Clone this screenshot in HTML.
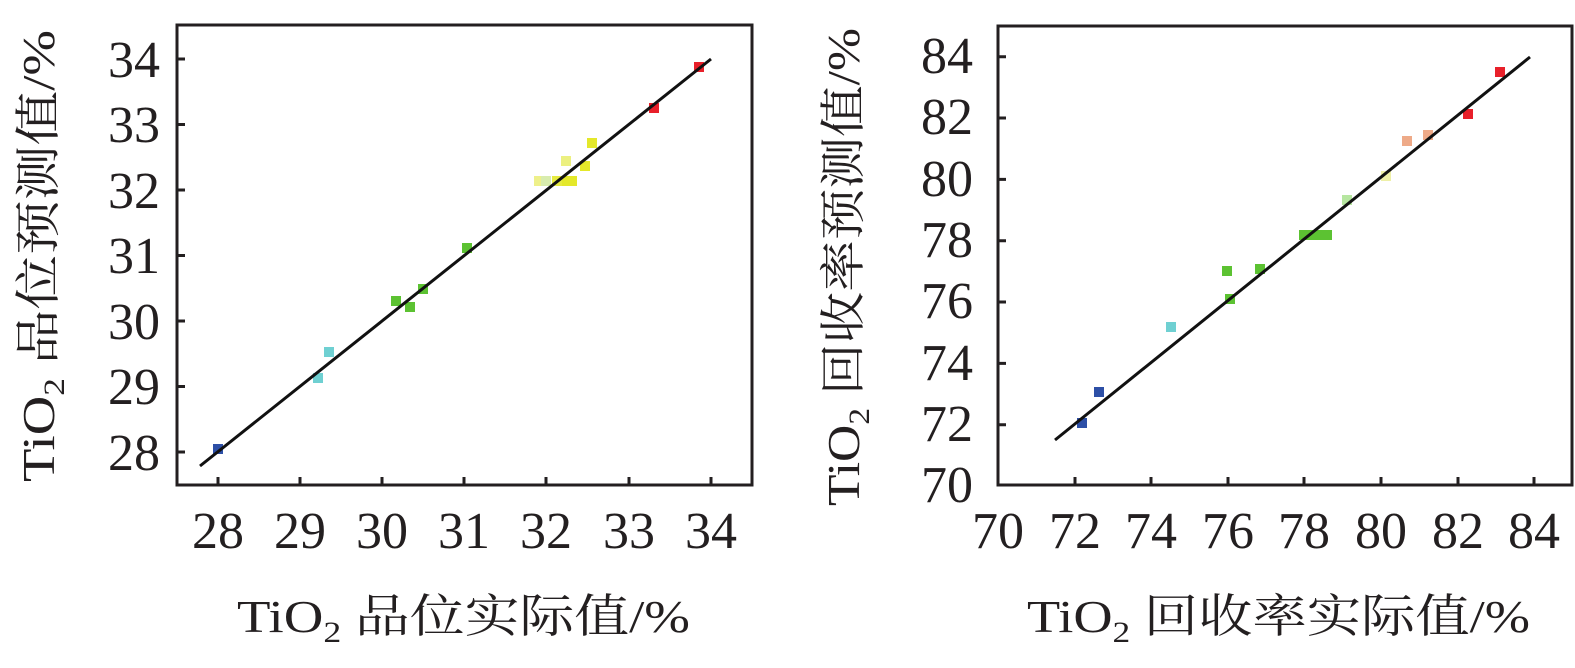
<!DOCTYPE html>
<html><head><meta charset="utf-8"><style>html,body{margin:0;padding:0;background:#fff}svg{display:block}text{font-family:"Liberation Serif","Noto Serif CJK SC",serif}</style></head>
<body>
<svg width="1575" height="668" viewBox="0 0 1575 668" xmlns="http://www.w3.org/2000/svg" fill="#231f20">
<g stroke="#231f20" stroke-width="3" fill="none">
<path d="M177,25 H752 V485 H177 Z"/>
<path d="M218,485v-8M300,485v-8M382,485v-8M464,485v-8M546,485v-8M629,485v-8M711,485v-8"/>
<path d="M177,452h8M177,386.5h8M177,321h8M177,255.5h8M177,190h8M177,124.5h8M177,59h8"/>
</g>
<g font-size="52" text-anchor="middle">
<text x="218" y="548">28</text><text x="300" y="548">29</text><text x="382" y="548">30</text><text x="464" y="548">31</text><text x="546" y="548">32</text><text x="629" y="548">33</text><text x="711" y="548">34</text>
</g>
<g font-size="52" text-anchor="end">
<text x="160" y="470">28</text><text x="160" y="404">29</text><text x="160" y="339">30</text><text x="160" y="273">31</text><text x="160" y="208">32</text><text x="160" y="142">33</text><text x="160" y="77">34</text>
</g>
<g>
<rect x="213" y="444" width="10" height="10" fill="#2d4fa6"/>
<rect x="313" y="373" width="10" height="10" fill="#6fd0d2"/>
<rect x="324" y="347" width="10" height="10" fill="#6fd0d2"/>
<rect x="391" y="296" width="10" height="10" fill="#5cc232"/>
<rect x="405" y="302" width="10" height="10" fill="#5cc232"/>
<rect x="418" y="284" width="10" height="10" fill="#5cc232"/>
<rect x="462" y="243" width="10" height="10" fill="#5cc232"/>
<rect x="534" y="176" width="10" height="10" fill="#eef08a"/>
<rect x="541" y="176" width="10" height="10" fill="#d8ecae"/>
<rect x="552" y="176" width="10" height="10" fill="#e6ea40"/>
<rect x="562" y="176" width="10" height="10" fill="#e4e82a"/>
<rect x="567" y="176" width="10" height="10" fill="#e4e82a"/>
<rect x="561" y="156" width="10" height="10" fill="#ecf080"/>
<rect x="580" y="161" width="10" height="10" fill="#e4e82a"/>
<rect x="587" y="138" width="10" height="10" fill="#e4e82a"/>
<rect x="649" y="103" width="10" height="10" fill="#e8202a"/>
<rect x="694" y="62" width="10" height="10" fill="#e8202a"/>
</g>
<line x1="200" y1="466" x2="711" y2="59" stroke="#111" stroke-width="3"/>
<text x="237" y="632" font-size="46" textLength="453" lengthAdjust="spacingAndGlyphs">TiO<tspan font-size="30" dy="10">2</tspan><tspan dy="-10"> 品位实际值/%</tspan></text>
<text transform="translate(54,482) rotate(-90)" font-size="46" textLength="452" lengthAdjust="spacingAndGlyphs">TiO<tspan font-size="30" dy="10">2</tspan><tspan dy="-10"> 品位预测值/%</tspan></text>

<g stroke="#231f20" stroke-width="3" fill="none">
<path d="M998,26 H1572 V485 H998 Z"/>
<path d="M1075,485v-8M1151,485v-8M1228,485v-8M1304,485v-8M1381,485v-8M1458,485v-8M1534,485v-8"/>
<path d="M998,424.7h8M998,363.4h8M998,302h8M998,240.7h8M998,179.4h8M998,118h8M998,56.7h8"/>
</g>
<g font-size="52" text-anchor="middle">
<text x="998" y="548">70</text><text x="1075" y="548">72</text><text x="1151" y="548">74</text><text x="1228" y="548">76</text><text x="1304" y="548">78</text><text x="1381" y="548">80</text><text x="1458" y="548">82</text><text x="1534" y="548">84</text>
</g>
<g font-size="52" text-anchor="end">
<text x="973" y="502">70</text><text x="973" y="441">72</text><text x="973" y="380">74</text><text x="973" y="318">76</text><text x="973" y="257">78</text><text x="973" y="196">80</text><text x="973" y="134">82</text><text x="973" y="73">84</text>
</g>
<g>
<rect x="1077" y="418" width="10" height="10" fill="#2d4fa6"/>
<rect x="1094" y="387" width="10" height="10" fill="#2d4fa6"/>
<rect x="1166" y="322" width="10" height="10" fill="#6fd0d2"/>
<rect x="1222" y="266" width="10" height="10" fill="#5cc232"/>
<rect x="1225" y="294" width="10" height="10" fill="#5cc232"/>
<rect x="1255" y="264" width="10" height="10" fill="#5cc232"/>
<rect x="1299" y="230" width="10" height="10" fill="#5cc232"/>
<rect x="1308" y="230" width="10" height="10" fill="#5cc232"/>
<rect x="1316" y="230" width="10" height="10" fill="#5cc232"/>
<rect x="1322" y="230" width="10" height="10" fill="#5cc232"/>
<rect x="1342" y="195" width="10" height="10" fill="#b6e6a0"/>
<rect x="1381" y="171" width="10" height="10" fill="#eef0a8"/>
<rect x="1402" y="136" width="10" height="10" fill="#eeaa88"/>
<rect x="1423" y="130" width="10" height="10" fill="#eeaa88"/>
<rect x="1463" y="109" width="10" height="10" fill="#e8202a"/>
<rect x="1495" y="67" width="10" height="10" fill="#e8202a"/>
</g>
<line x1="1055" y1="440" x2="1530" y2="57" stroke="#111" stroke-width="3"/>
<text x="1027" y="632" font-size="46" textLength="503" lengthAdjust="spacingAndGlyphs">TiO<tspan font-size="30" dy="10">2</tspan><tspan dy="-10"> 回收率实际值/%</tspan></text>
<text transform="translate(859,506) rotate(-90)" font-size="46" textLength="478" lengthAdjust="spacingAndGlyphs">TiO<tspan font-size="30" dy="10">2</tspan><tspan dy="-10"> 回收率预测值/%</tspan></text>
</svg>
</body></html>
